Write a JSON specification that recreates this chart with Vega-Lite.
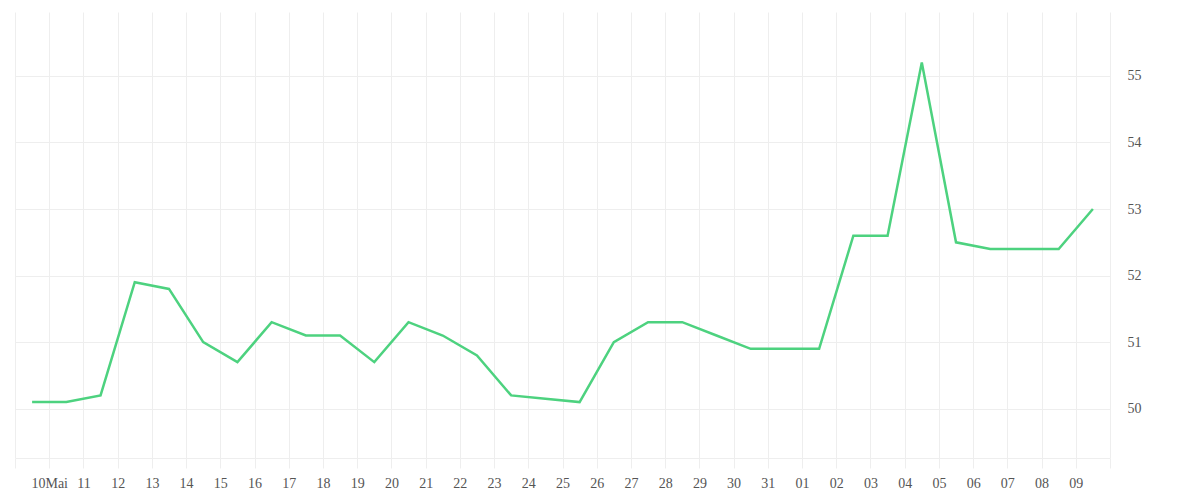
{
  "$schema": "https://vega.github.io/schema/vega-lite/v6.json",
  "width": 1095,
  "height": 446,
  "autosize": {"type": "none"},
  "padding": {"left": 15, "top": 12, "right": 90, "bottom": 42},
  "config": {"view": {"stroke": null}, "background": "#ffffff"},
  "data": {
    "values": [
      {"date": "2024-05-09T12:00:00", "value": 50.1},
      {"date": "2024-05-10T12:00:00", "value": 50.1},
      {"date": "2024-05-11T12:00:00", "value": 50.2},
      {"date": "2024-05-12T12:00:00", "value": 51.9},
      {"date": "2024-05-13T12:00:00", "value": 51.8},
      {"date": "2024-05-14T12:00:00", "value": 51.0},
      {"date": "2024-05-15T12:00:00", "value": 50.7},
      {"date": "2024-05-16T12:00:00", "value": 51.3},
      {"date": "2024-05-17T12:00:00", "value": 51.1},
      {"date": "2024-05-18T12:00:00", "value": 51.1},
      {"date": "2024-05-19T12:00:00", "value": 50.7},
      {"date": "2024-05-20T12:00:00", "value": 51.3},
      {"date": "2024-05-21T12:00:00", "value": 51.1},
      {"date": "2024-05-22T12:00:00", "value": 50.8},
      {"date": "2024-05-23T12:00:00", "value": 50.2},
      {"date": "2024-05-24T12:00:00", "value": 50.15},
      {"date": "2024-05-25T12:00:00", "value": 50.1},
      {"date": "2024-05-26T12:00:00", "value": 51.0},
      {"date": "2024-05-27T12:00:00", "value": 51.3},
      {"date": "2024-05-28T12:00:00", "value": 51.3},
      {"date": "2024-05-29T12:00:00", "value": 51.1},
      {"date": "2024-05-30T12:00:00", "value": 50.9},
      {"date": "2024-05-31T12:00:00", "value": 50.9},
      {"date": "2024-06-01T12:00:00", "value": 50.9},
      {"date": "2024-06-02T12:00:00", "value": 52.6},
      {"date": "2024-06-03T12:00:00", "value": 52.6},
      {"date": "2024-06-04T12:00:00", "value": 55.2},
      {"date": "2024-06-05T12:00:00", "value": 52.5},
      {"date": "2024-06-06T12:00:00", "value": 52.4},
      {"date": "2024-06-07T12:00:00", "value": 52.4},
      {"date": "2024-06-08T12:00:00", "value": 52.4},
      {"date": "2024-06-09T12:00:00", "value": 53.0}
    ]
  },
  "mark": {"type": "line", "color": "#4dd27f", "strokeWidth": 2.5},
  "encoding": {
    "x": {
      "field": "date",
      "type": "temporal",
      "title": null,
      "scale": {
        "domain": [
          {"year": 2024, "month": 5, "date": 9},
          {"year": 2024, "month": 6, "date": 10}
        ],
        "nice": false
      },
      "axis": {
        "tickCount": {"interval": "day", "step": 1},
        "grid": true,
        "gridColor": "#eeeeee",
        "gridWidth": 1,
        "domainColor": "#eeeeee",
        "tickColor": "#eeeeee",
        "tickSize": 10,
        "labelOverlap": false,
        "labelFlush": false,
        "labelPadding": 8,
        "labelFont": "Liberation Serif",
        "labelFontSize": 14,
        "labelColor": "#555555",
        "labelExpr": "(month(datum.value) == 4 && date(datum.value) == 9) || (month(datum.value) == 5 && date(datum.value) == 10) ? '' : (month(datum.value) == 4 && date(datum.value) == 10 ? '10Mai' : timeFormat(datum.value, '%d'))"
      }
    },
    "y": {
      "field": "value",
      "type": "quantitative",
      "title": null,
      "scale": {"domain": [49.26, 55.96], "nice": false, "zero": false},
      "axis": {
        "orient": "right",
        "values": [50, 51, 52, 53, 54, 55],
        "grid": true,
        "gridColor": "#eeeeee",
        "domain": false,
        "ticks": false,
        "labelPadding": 17,
        "labelFont": "Liberation Serif",
        "labelFontSize": 14,
        "labelColor": "#555555"
      }
    }
  }
}
